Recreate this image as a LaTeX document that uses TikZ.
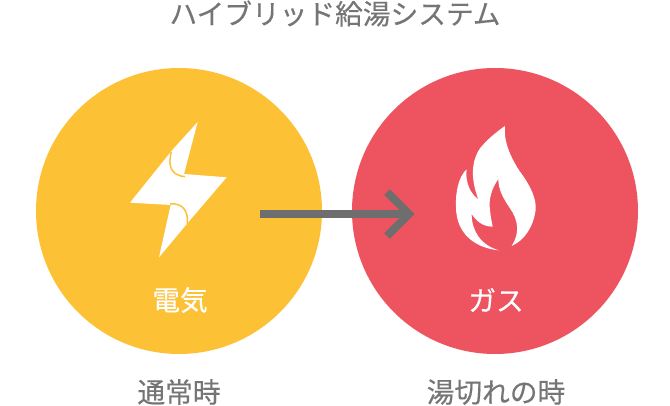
\documentclass[tikz,border=0pt]{standalone}
\usepackage{fontspec}
\setmainfont{Noto Sans CJK JP}[FakeBold=0.35]
\definecolor{sun}{HTML}{FDC136}
\definecolor{fire}{HTML}{EE5360}
\definecolor{ink}{HTML}{757575}
\definecolor{arrowink}{HTML}{6E6E6E}
\tikzset{
  disc/.style={circle,minimum size=286pt,inner sep=0pt,outer sep=0pt},
  caption/.style={text=ink,font=\fontsize{27.7pt}{32pt}\selectfont,inner sep=0pt},
  inlabel/.style={text=white,font=\fontsize{27.7pt}{32pt}\selectfont,inner sep=0pt}
}
\begin{document}
\begin{tikzpicture}[x=1pt,y=-1pt]
\useasboundingbox (0,0) rectangle (670,406);
\node[disc,fill=sun] (elec) at (179,211) {};
\node[disc,fill=fire] (gas) at (495,211) {};
% bolt
\begin{scope}[shift={(110,100)},x=0.3333pt,y=-0.3333pt]
\fill[white] (263,66) -- (222,222) -- (350,232) -- (232,370) -- (147,472) -- (182,315) -- (60,308) -- (187,150) -- cycle;
\draw[sun,line width=1.5pt] (184,155) .. controls (178,180) and (170,225) .. (225,230);
\draw[sun,line width=1.5pt] (180,312) .. controls (215,308) and (236,330) .. (232,372);
\end{scope}
% flame
\begin{scope}[shift={(370,110)},x=0.3333pt,y=-0.3333pt]
\fill[white] (405,48) .. controls (400,90) and (420,140) .. (450,185)
 .. controls (480,225) and (500,265) .. (497,300)
 .. controls (490,350) and (465,390) .. (425,408)
 .. controls (450,370) and (445,330) .. (420,295)
 .. controls (400,265) and (385,240) .. (385,207)
 .. controls (365,235) and (355,270) .. (360,300)
 .. controls (362,320) and (365,335) .. (368,350)
 .. controls (340,350) and (320,335) .. (305,312)
 .. controls (305,360) and (330,405) .. (387,421)
 .. controls (320,415) and (258,375) .. (258,290)
 .. controls (256,250) and (265,200) .. (290,178)
 .. controls (285,215) and (300,250) .. (325,268)
 .. controls (305,215) and (300,160) .. (330,115)
 .. controls (350,90) and (380,65) .. (405,48) -- cycle;
\end{scope}
\coordinate (from) at (260,214);
\coordinate (to) at (409,214);
\coordinate (wingA) at (387,192);
\coordinate (wingB) at (387,236);
\draw[arrowink,line width=8pt] (from) -- (to);
\draw[arrowink,line width=8pt,miter limit=10] (wingA) -- (to) -- (wingB);
\node[caption] (title) at (335,13.5) {ハイブリッド給湯システム};
\node[inlabel] (l1) at (180,300) {電気};
\node[inlabel] (l2) at (496,300) {ガス};
\node[caption] (c1) at (179,392) {通常時};
\node[caption] (c2) at (496,392) {湯切れの時};
\end{tikzpicture}
\end{document}
